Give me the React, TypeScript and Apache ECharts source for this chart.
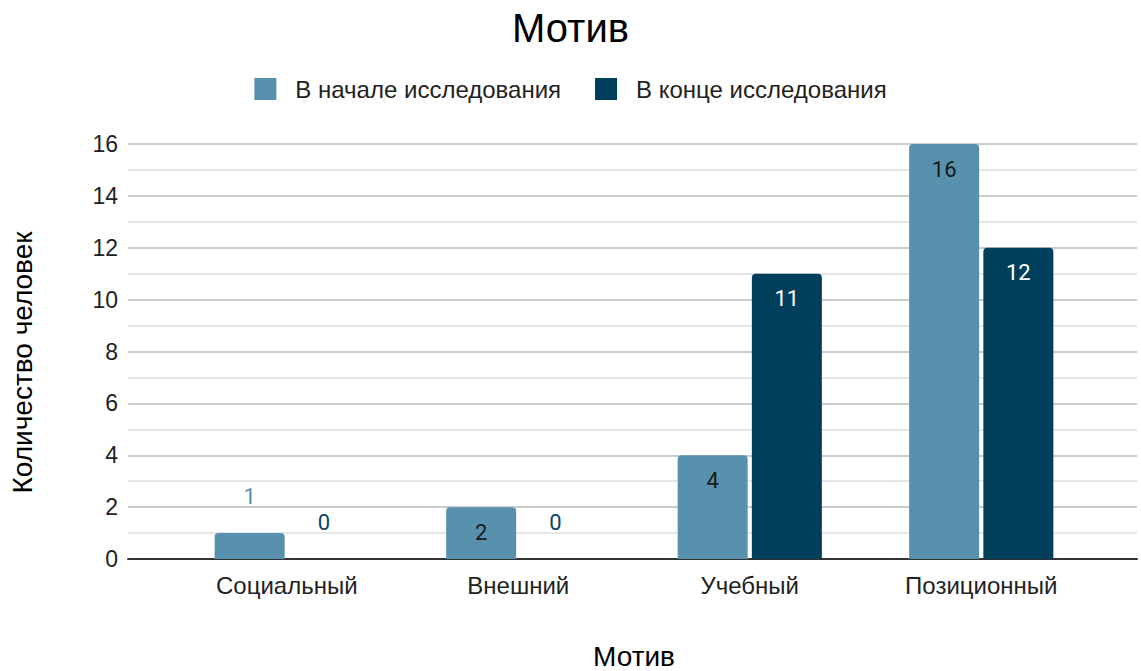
import React, { useEffect, useRef } from "react";
import * as echarts from "echarts";

const categories = ["Социальный", "Внешний", "Учебный", "Позиционный"];
const seriesNames = ["В начале исследования", "В конце исследования"];
const startValues = [1, 2, 4, 16];
const endValues = [0, 0, 11, 12];
const yTicks = { min: 0, max: 16, interval: 2 };

const C1 = "#5891ad";
const C2 = "#003f5c";
const FONT = "'Liberation Sans', Arial, sans-serif";
const LFONT = "Roboto, 'Liberation Sans', sans-serif";

export default function App() {
  const ref = useRef<HTMLDivElement>(null);
  useEffect(() => {
    if (!ref.current) return;
    const chart = echarts.init(ref.current, null, { renderer: "svg" });
    const mkData = (vals: number[], outColor: string, inColor: string) =>
      vals.map((v) => {
        const small = v <= 1;
        return {
          value: v,
          label: small
            ? { position: "top", distance: 26, color: outColor }
            : { position: "insideTop", distance: 14, color: inColor },
        };
      });
    chart.setOption({
      animation: false,
      backgroundColor: "#ffffff",
      title: {
        text: "Мотив",
        left: "center",
        top: 3,
        textStyle: { fontFamily: FONT, fontSize: 40, fontWeight: "normal", color: "#000" },
      },
      legend: {
        top: 72,
        left: "center",
        itemWidth: 22,
        itemHeight: 22,
        itemGap: 34,
        icon: "rect",
        textStyle: { fontFamily: FONT, fontSize: 24, color: "#222", padding: [0, 0, 0, 14] },
        data: seriesNames,
      },
      grid: [
        { left: 128, right: 4, top: 144, bottom: 112, outerBoundsMode: "none" },
        { left: 171, right: 44, top: 144, bottom: 112, outerBoundsMode: "none" },
      ],
      xAxis: [
        {
          gridIndex: 0,
          type: "value",
          min: 0,
          max: 1,
          axisLine: { show: true, onZero: false, lineStyle: { color: "#333", width: 2 } },
          axisTick: { show: false },
          axisLabel: { show: false },
          splitLine: { show: false },
        },
        {
          gridIndex: 1,
          type: "category",
          data: categories,
          axisLine: { show: false },
          axisTick: { show: false },
          axisLabel: { fontFamily: FONT, fontSize: 24, color: "#222", margin: 14 },
          name: "Мотив",
          nameLocation: "middle",
          nameGap: 83,
          nameTextStyle: { fontFamily: FONT, fontSize: 28, color: "#000", lineHeight: 28 },
        },
      ],
      yAxis: [
        {
          gridIndex: 0,
          type: "value",
          min: yTicks.min,
          max: yTicks.max,
          interval: yTicks.interval,
          axisLine: { show: false },
          axisTick: { show: false },
          axisLabel: { fontFamily: FONT, fontSize: 23, color: "#222", margin: 10 },
          splitLine: { show: true, lineStyle: { color: "#cccccc", width: 2 } },
          minorTick: { show: false, splitNumber: 2 },
          minorSplitLine: { show: true, lineStyle: { color: "#e6e6e6", width: 2 } },
          name: "Количество человек",
          nameLocation: "middle",
          nameGap: 92,
          nameTextStyle: { fontFamily: FONT, fontSize: 28, color: "#000", padding: [0, 22, 0, 0] },
        },
        {
          gridIndex: 1,
          type: "value",
          min: yTicks.min,
          max: yTicks.max,
          interval: yTicks.interval,
          show: false,
          splitLine: { show: false },
        },
      ],
      series: [
        {
          name: seriesNames[0],
          type: "bar",
          xAxisIndex: 1,
          yAxisIndex: 1,
          barWidth: 70,
          barGap: "6%",
          itemStyle: { color: C1, borderRadius: [4, 4, 0, 0] },
          label: { show: true, fontFamily: LFONT, fontSize: 22 },
          data: mkData(startValues, C1, "#1a1a1a"),
        },
        {
          name: seriesNames[1],
          type: "bar",
          xAxisIndex: 1,
          yAxisIndex: 1,
          barWidth: 70,
          barGap: "6%",
          itemStyle: { color: C2, borderRadius: [4, 4, 0, 0] },
          label: { show: true, fontFamily: LFONT, fontSize: 22 },
          data: mkData(endValues, "#0b4566", "#ffffff"),
        },
      ],
    });
    return () => chart.dispose();
  }, []);
  return <div ref={ref} style={{ width: 1141, height: 671, position: "absolute", left: 0, top: 0 }} />;
}
